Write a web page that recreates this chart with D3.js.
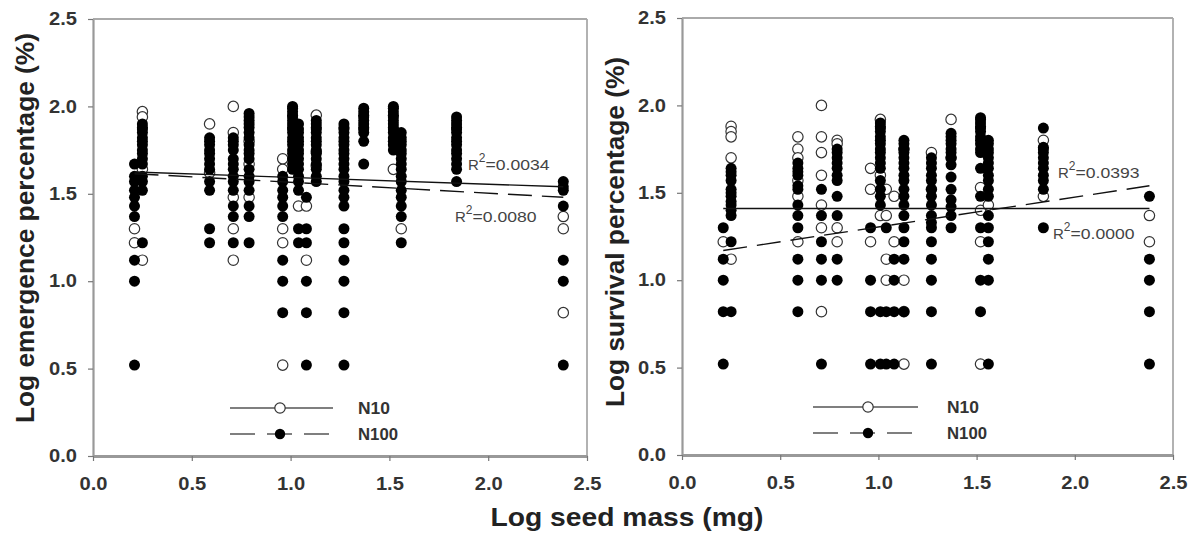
<!DOCTYPE html>
<html><head><meta charset="utf-8">
<script src="https://cdn.jsdelivr.net/npm/d3@7"></script>
<style>
body{margin:0;background:#fff;}
svg{display:block;}
text{font-family:Arial,"Liberation Sans",sans-serif;}
</style></head>
<body>
<svg id="c" width="1194" height="534"></svg>
<script>
// ---------- DATA ----------
const speciesX = [0.21,0.25,0.59,0.71,0.79,0.96,1.01,1.04,1.08,1.13,1.27,1.37,1.52,1.56,1.84,2.38];
const tickValues = [0.0,0.5,1.0,1.5,2.0,2.5];
const seriesNames = ["N10","N100"];

// Log emergence percentage, one list per species
const emN10 = [
  [1.30,1.22],
  [1.97,1.94,1.64,1.12],
  [1.90,1.62],
  [2.00,1.85,1.48,1.30,1.12],
  [1.80,1.67,1.48],
  [1.70,1.64,1.30,1.22,0.52],
  [],
  [1.43],
  [1.43,1.12],
  [1.95,1.74,1.66],
  [],
  [],
  [1.64],
  [1.30],
  [],
  [1.37,1.30,0.82]
];
const emN100 = [
  [1.67,1.60,1.57,1.52,1.48,1.43,1.37,1.12,1.00,0.52],
  [1.90,1.88,1.87,1.85,1.82,1.80,1.78,1.75,1.73,1.70,1.67,1.60,1.57,1.52,1.22],
  [1.82,1.80,1.78,1.75,1.73,1.70,1.67,1.64,1.57,1.52,1.30,1.22],
  [1.82,1.80,1.78,1.75,1.70,1.67,1.64,1.60,1.57,1.52,1.43,1.37,1.22],
  [1.96,1.94,1.92,1.90,1.88,1.85,1.82,1.78,1.75,1.73,1.70,1.64,1.60,1.57,1.52,1.43,1.37,1.22],
  [1.60,1.57,1.52,1.48,1.43,1.37,1.12,1.00,0.82],
  [2.00,1.99,1.97,1.95,1.94,1.92,1.90,1.88,1.87,1.85,1.82,1.80,1.78,1.75,1.73,1.70,1.67,1.64],
  [1.90,1.87,1.85,1.82,1.80,1.78,1.75,1.73,1.70,1.67,1.64,1.60,1.57,1.52,1.30,1.22],
  [1.48,1.30,1.22,1.00,0.82,0.52],
  [1.92,1.90,1.88,1.87,1.85,1.82,1.80,1.78,1.75,1.73,1.70,1.67,1.64,1.60,1.57],
  [1.90,1.88,1.87,1.85,1.82,1.80,1.78,1.75,1.73,1.70,1.67,1.64,1.60,1.57,1.52,1.48,1.43,1.30,1.22,1.12,1.00,0.82,0.52],
  [1.99,1.97,1.95,1.94,1.92,1.90,1.88,1.87,1.85,1.80,1.67],
  [2.00,1.99,1.97,1.95,1.94,1.92,1.90,1.88,1.87,1.85,1.82,1.80,1.78,1.75],
  [1.85,1.82,1.80,1.78,1.75,1.73,1.70,1.67,1.64,1.60,1.57,1.52,1.48,1.43,1.37,1.22],
  [1.94,1.92,1.90,1.88,1.87,1.85,1.82,1.80,1.78,1.75,1.73,1.70,1.67,1.64,1.57],
  [1.57,1.54,1.52,1.43,1.12,1.00,0.52]
];
// Log survival percentage, one list per species
const svN10 = [
  [1.22],
  [1.88,1.85,1.82,1.70,1.12],
  [1.82,1.75,1.70,1.57,1.48,1.22],
  [2.00,1.82,1.73,1.60,1.43,1.30,0.82],
  [1.80,1.78,1.30,1.22],
  [1.64,1.52,1.22],
  [1.92,1.60,1.37],
  [1.52,1.37,1.12,1.00],
  [1.48,1.22],
  [1.75,1.00,0.82,0.52],
  [1.73,1.52],
  [1.92,1.70],
  [1.53,1.40,1.22,0.52],
  [1.43],
  [1.80,1.48],
  [1.37,1.22]
];
const svN100 = [
  [1.30,1.12,1.00,0.82,0.52],
  [1.64,1.62,1.60,1.57,1.52,1.50,1.48,1.45,1.43,1.40,1.37,1.22,0.82],
  [1.67,1.64,1.62,1.60,1.54,1.52,1.43,1.37,1.30,1.12,1.00,0.82],
  [1.52,1.37,1.22,1.12,1.00,0.52],
  [1.75,1.73,1.70,1.67,1.64,1.60,1.57,1.48,1.37,1.12,1.00],
  [1.30,1.00,0.82,0.52],
  [1.90,1.88,1.87,1.85,1.82,1.80,1.78,1.75,1.73,1.70,1.67,1.64,1.57,1.52,1.48,1.43,0.82,0.52],
  [1.30,0.82,0.52],
  [1.12,1.00,0.82,0.52],
  [1.80,1.78,1.75,1.73,1.70,1.67,1.64,1.60,1.57,1.52,1.48,1.43,1.37,1.30,1.22,1.12,0.82],
  [1.70,1.67,1.64,1.60,1.57,1.52,1.48,1.43,1.37,1.33,1.30,1.22,1.12,1.00,0.82,0.52],
  [1.84,1.82,1.80,1.78,1.75,1.73,1.70,1.66,1.59,1.52,1.46,1.42,1.37,1.30],
  [1.93,1.92,1.90,1.88,1.87,1.85,1.82,1.80,1.78,1.75,1.73,1.64,1.48,1.30,1.00,0.82],
  [1.80,1.78,1.75,1.73,1.70,1.67,1.64,1.60,1.57,1.52,1.48,1.37,1.30,1.22,1.12,1.00,0.52],
  [1.87,1.76,1.75,1.73,1.70,1.67,1.64,1.60,1.57,1.52,1.30],
  [1.48,1.12,1.00,0.82,0.52]
];
// fitted regression lines (x, y end points)
const emFitN10  = [[0.21,1.625],[2.38,1.54]];
const emFitN100 = [[0.21,1.615],[2.38,1.48]];
const svFitN10  = [[0.21,1.41],[2.38,1.41]];
const svFitN100 = [[0.21,1.17],[2.38,1.54]];
const emR2 = ["0.0034","0.0080"];
const svR2 = ["0.0393","0.0000"];

// ---------- DRAW ----------
const svg = d3.select("#c");
const panels = [
  {x0:93, x1:587, y0:456, y1:19, ylab:"Log emergence percentage (%)", ylabX:25, ylabY:228, ylabLen:390,
   n10:emN10, n100:emN100, fit10:emFitN10, fit100:emFitN100, r2:emR2,
   r2pos:[[468,170],[455,222]], leg:{l:230, r:333, c:280, t:358, rows:[408,434]}},
  {x0:682, x1:1173, y0:455, y1:18, ylab:"Log survival percentage (%)", ylabX:615, ylabY:232, ylabLen:350,
   n10:svN10, n100:svN100, fit10:svFitN10, fit100:svFitN100, r2:svR2,
   r2pos:[[1058,178],[1053,239]], leg:{l:813, r:918, c:868, t:947, rows:[407,433]}}
];

panels.forEach(p => {
  const x = d3.scaleLinear().domain([0,2.5]).range([p.x0,p.x1]);
  const y = d3.scaleLinear().domain([0,2.5]).range([p.y0,p.y1]);
  const g = svg.append("g");

  // frame top/right
  g.append("line").attr("x1",p.x0).attr("x2",p.x1).attr("y1",p.y1).attr("y2",p.y1)
    .attr("stroke","#aaa").attr("stroke-width",1.8);
  g.append("line").attr("x1",p.x1).attr("x2",p.x1).attr("y1",p.y1).attr("y2",p.y0)
    .attr("stroke","#aaa").attr("stroke-width",1.8);

  const ya = g.append("g").attr("transform",`translate(${p.x0},0)`)
    .call(d3.axisLeft(y).tickValues(tickValues).tickFormat(d3.format(".1f")).tickSize(5).tickPadding(11).tickSizeOuter(0));
  const xa = g.append("g").attr("transform",`translate(0,${p.y0})`)
    .call(d3.axisBottom(x).tickValues(tickValues).tickFormat(d3.format(".1f")).tickSize(5).tickPadding(16).tickSizeOuter(0));
  [ya,xa].forEach(a=>{
    a.selectAll("path").attr("stroke","#999").attr("stroke-width",2.2);
    a.selectAll("line").attr("stroke","#777").attr("stroke-width",1.2);
    a.selectAll("text").attr("font-size",18).attr("font-weight","bold").attr("fill","#333")
      .attr("font-family","Arial,'Liberation Sans',sans-serif")
      .attr("textLength",28).attr("lengthAdjust","spacingAndGlyphs");
  });
  xa.select("path").attr("stroke-width",3);

  g.append("text").attr("transform",`translate(${p.ylabX},${p.ylabY}) rotate(-90)`)
    .attr("text-anchor","middle").attr("dy","0.35em").attr("font-size",25).attr("font-weight","bold")
    .attr("fill","#222").attr("textLength",p.ylabLen).attr("lengthAdjust","spacingAndGlyphs").text(p.ylab);

  // points
  const pts = (arr) => arr.flatMap((vals,i)=>vals.map(v=>({x:speciesX[i], y:v})));
  g.append("g").selectAll("circle").data(pts(p.n10)).join("circle")
    .attr("cx",d=>x(d.x)).attr("cy",d=>y(d.y)).attr("r",5.2)
    .attr("fill","#fff").attr("stroke","#333").attr("stroke-width",1.2);
  g.append("g").selectAll("circle").data(pts(p.n100)).join("circle")
    .attr("cx",d=>x(d.x)).attr("cy",d=>y(d.y)).attr("r",5.5)
    .attr("fill","#000");

  // fits
  const line = d3.line().x(d=>x(d[0])).y(d=>y(d[1]));
  g.append("path").attr("d",line(p.fit10)).attr("fill","none").attr("stroke","#111").attr("stroke-width",1.4);
  g.append("path").attr("d",line(p.fit100)).attr("fill","none").attr("stroke","#111").attr("stroke-width",1.4)
    .attr("stroke-dasharray","24,10");

  // R2 labels
  p.r2.forEach((r,i)=>{
    const t = g.append("text").attr("x",p.r2pos[i][0]).attr("y",p.r2pos[i][1])
      .attr("font-size",15).attr("fill","#444");
    t.append("tspan").text("R");
    t.append("tspan").attr("dy",-8).attr("font-size",12).text("2");
    t.append("tspan").attr("dy",8).attr("textLength",64).attr("lengthAdjust","spacingAndGlyphs").text("="+r);
  });

  // legend
  const L = p.leg;
  seriesNames.forEach((nm,i)=>{
    const yy = L.rows[i];
    g.append("line").attr("x1",L.l).attr("x2",L.r).attr("y1",yy).attr("y2",yy)
      .attr("stroke","#555").attr("stroke-width",1.3)
      .attr("stroke-dasharray", i ? "25,12" : null);
    g.append("circle").attr("cx",L.c).attr("cy",yy).attr("r",5.2)
      .attr("fill", i ? "#000" : "#fff").attr("stroke", i ? "none" : "#333").attr("stroke-width",1.2);
    g.append("text").attr("x",L.t).attr("y",yy).attr("dy","0.36em").attr("font-size",17)
      .attr("font-weight","bold").attr("fill","#333")
      .attr("textLength", i ? 40 : 32).attr("lengthAdjust","spacingAndGlyphs").text(nm);
  });
});

svg.append("text").attr("x",627).attr("y",526).attr("text-anchor","middle")
  .attr("font-size",25).attr("font-weight","bold").attr("fill","#222")
  .attr("textLength",273).attr("lengthAdjust","spacingAndGlyphs").text("Log seed mass (mg)");
</script>
</body></html>
